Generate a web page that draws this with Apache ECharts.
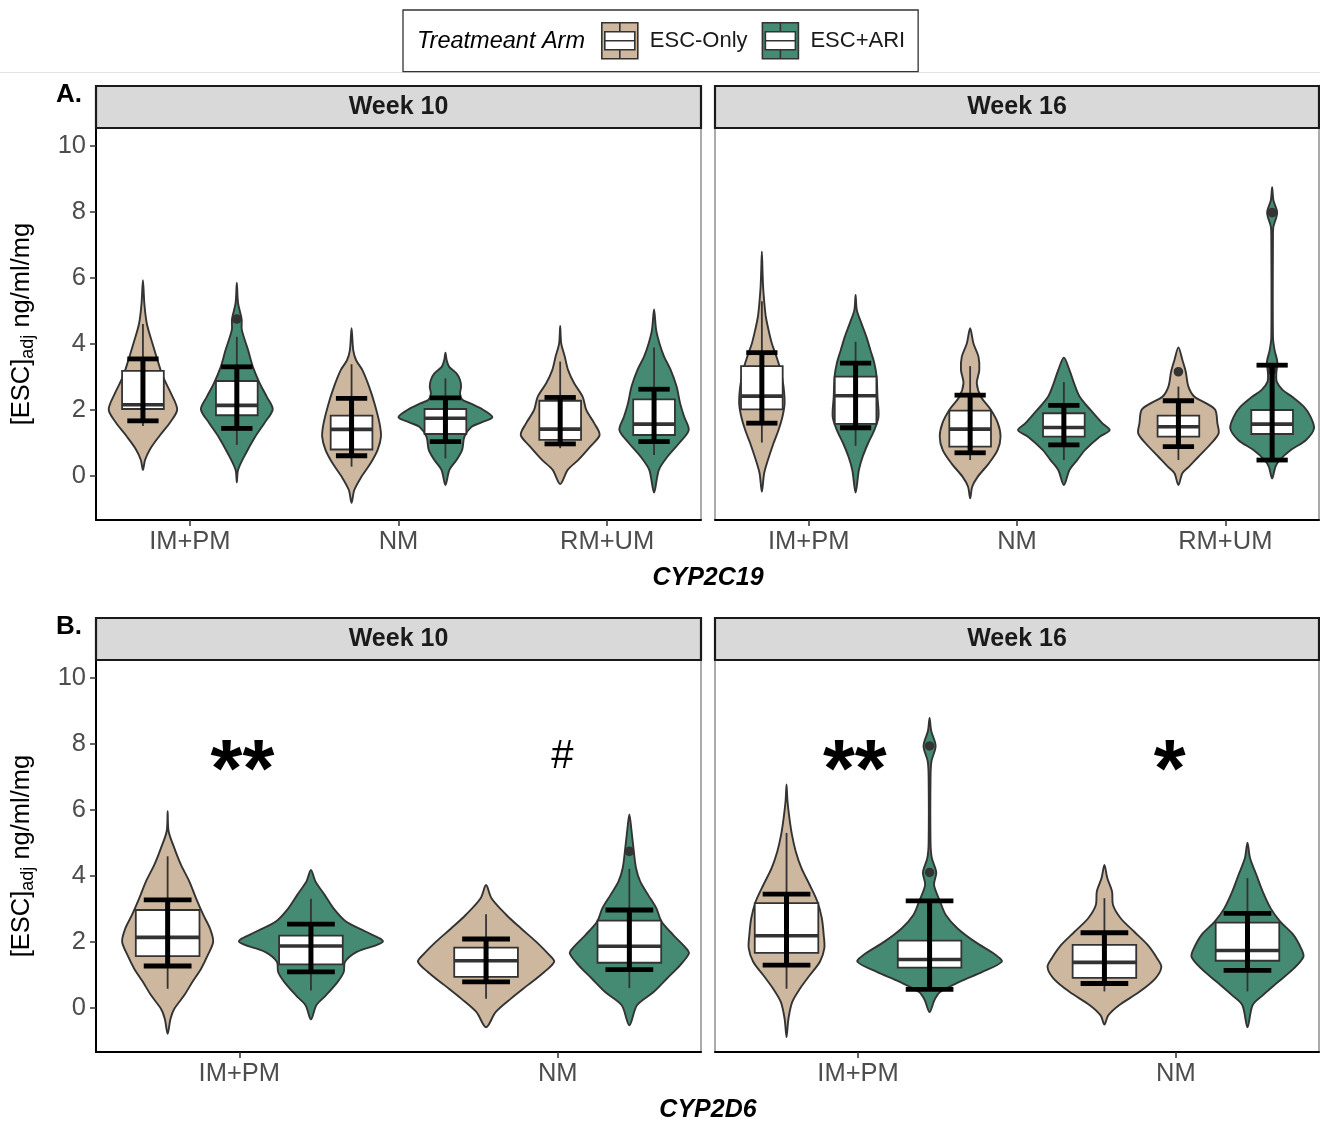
<!DOCTYPE html>
<html><head><meta charset="utf-8">
<script src="https://cdn.jsdelivr.net/npm/echarts@6/dist/echarts.min.js"></script>
<style>html,body{margin:0;padding:0;background:#fff;}#c{width:1320px;height:1121px;}</style>
</head><body><div id="c"></div>
<script>
// ---------------- DATA ----------------
const catsA = ['IM+PM', 'NM', 'RM+UM'];
const catsB = ['IM+PM', 'NM'];
const arms = ['ESC-Only', 'ESC+ARI'];
const weeks = ['Week 10', 'Week 16'];
const yTicks = [0, 2, 4, 6, 8, 10];
const titleA = 'CYP2C19';
const titleB = 'CYP2D6';

// violin outlines: per category, [value, half-width in x units] from top tip to bottom tip
const violin_A_W10_Only = [
  [[5.93,0],[5.2,.007],[4.6,.019],[4.0,.046],[3.5,.07],[3.0,.096],[2.5,.134],[2.0,.164],[1.6,.129],[1.2,.079],[0.8,.034],[0.47,.01],[0.17,0]],
  [[4.47,0],[3.81,.008],[3.5,.022],[3.2,.052],[2.7,.084],[2.19,.11],[1.59,.134],[1.18,.141],[0.78,.125],[0.37,.091],[-0.04,.047],[-0.44,.013],[-0.83,0]],
  [[4.54,0],[4.01,.005],[3.61,.022],[3.2,.038],[2.8,.067],[2.39,.108],[1.99,.125],[1.59,.163],[1.23,.189],[0.88,.144],[0.47,.086],[0.17,.036],[-0.26,0]]
];
const violin_A_W10_ARI = [
  [[5.85,0],[5.23,.006],[4.75,.023],[4.42,.024],[3.81,.054],[3.3,.077],[2.8,.11],[2.39,.144],[2.01,.172],[1.59,.132],[1.18,.088],[0.67,.043],[0.17,.006],[-0.21,0]],
  [[3.73,0],[3.5,.006],[3.3,.018],[3.1,.053],[2.9,.07],[2.7,.075],[2.49,.07],[2.3,.081],[2.19,.12],[1.99,.182],[1.77,.225],[1.6,.168],[1.48,.125],[1.18,.091],[0.78,.08],[0.47,.053],[0.17,.019],[-0.29,0]],
  [[5.04,0],[4.42,.01],[4.01,.026],[3.61,.048],[3.2,.08],[2.7,.108],[2.19,.125],[1.79,.144],[1.38,.166],[0.98,.12],[0.57,.064],[0.17,.023],[-0.52,0]]
];
const violin_A_W16_Only = [
  [[6.8,0],[6.24,.003],[5.73,.006],[5.23,.012],[4.82,.019],[4.42,.032],[4.01,.048],[3.61,.07],[3.2,.09],[2.7,.104],[2.19,.109],[1.79,.099],[1.38,.08],[0.98,.056],[0.47,.029],[0.07,.011],[-0.49,0]],
  [[4.47,0],[4.01,.016],[3.61,.04],[3.2,.044],[2.8,.032],[2.39,.052],[1.99,.1],[1.59,.133],[1.18,.146],[0.78,.132],[0.37,.09],[-0.04,.036],[-0.34,.01],[-0.69,0]],
  [[3.89,0],[3.51,.019],[3.16,.035],[2.7,.048],[2.39,.077],[2.19,.134],[1.99,.177],[1.59,.187],[1.28,.193],[0.98,.158],[0.57,.096],[0.27,.051],[0.07,.019],[-0.29,0]]
];
const violin_A_W16_ARI = [
  [[5.48,0],[5.02,.006],[4.62,.028],[4.21,.052],[3.81,.071],[3.41,.09],[3.0,.101],[2.39,.105],[1.79,.11],[1.38,.09],[0.98,.06],[0.57,.034],[0.17,.016],[-0.52,0]],
  [[3.58,0],[3.2,.027],[2.8,.049],[2.39,.076],[1.99,.128],[1.59,.184],[1.38,.22],[1.18,.172],[0.78,.102],[0.47,.064],[0.17,.027],[-0.29,0]],
  [[8.75,0],[8.36,.006],[7.98,.024],[7.55,.006],[7.25,.004],[4.2,.004],[3.8,.012],[3.45,.025],[3.1,.02],[2.85,.022],[2.6,.05],[2.39,.096],[2.09,.152],[1.79,.184],[1.43,.201],[1.08,.163],[0.78,.091],[0.47,.036],[0.27,.016],[-0.09,0]]
];
const violin_B_W10_Only = [
  [[5.96,0],[5.35,.003],[4.84,.021],[4.33,.042],[3.83,.068],[3.32,.089],[2.81,.112],[2.4,.133],[2.0,.143],[1.59,.126],[1.18,.105],[0.78,.078],[0.37,.052],[-0.04,.021],[-0.34,.009],[-0.8,0]],
  [[3.72,0],[3.32,.017],[2.81,.064],[2.4,.11],[2.0,.157],[1.59,.199],[1.39,.214],[1.08,.183],[0.68,.131],[0.27,.078],[-0.14,.03],[-0.6,0]]
];
const violin_B_W10_ARI = [
  [[4.18,0],[3.83,.014],[3.42,.043],[3.01,.071],[2.61,.11],[2.3,.173],[2.0,.226],[1.69,.144],[1.39,.107],[1.08,.103],[0.78,.084],[0.37,.047],[0.07,.017],[-0.36,0]],
  [[5.86,0],[5.35,.007],[4.74,.014],[4.23,.021],[3.83,.034],[3.42,.059],[3.01,.085],[2.61,.101],[2.2,.138],[1.79,.179],[1.64,.187],[1.28,.159],[0.88,.118],[0.47,.076],[0.07,.024],[-0.54,0]]
];
const violin_B_W16_Only = [
  [[6.77,0],[6.27,.003],[5.76,.009],[5.25,.017],[4.74,.029],[4.23,.047],[3.72,.073],[3.22,.097],[2.71,.111],[2.2,.117],[1.8,.119],[1.39,.105],[0.98,.073],[0.57,.042],[0.17,.018],[-0.34,.006],[-0.9,0]],
  [[4.33,0],[3.93,.009],[3.52,.024],[3.11,.027],[2.71,.051],[2.3,.094],[1.9,.136],[1.49,.166],[1.23,.179],[0.88,.16],[0.47,.109],[0.07,.046],[-0.24,.012],[-0.52,0]]
];
const violin_B_W16_ARI = [
  [[8.79,0],[8.4,.005],[7.94,.019],[7.48,.006],[7.0,.003],[5.0,.003],[4.54,.007],[4.1,.021],[3.72,.014],[3.22,.033],[2.81,.051],[2.4,.088],[2.0,.142],[1.59,.209],[1.39,.227],[1.08,.166],[0.78,.094],[0.47,.033],[0.22,.015],[-0.14,0]],
  [[5.0,0],[4.54,.008],[4.03,.028],[3.52,.048],[3.01,.073],[2.61,.103],[2.2,.145],[1.79,.169],[1.54,.176],[1.18,.145],[0.78,.097],[0.37,.048],[0.07,.016],[-0.6,0]]
];

// boxplots per category: [lower whisker, Q1, median, Q3, upper whisker]
const box_A_W10_Only = [[1.50,2.02,2.15,3.18,4.60],[0.27,0.79,1.40,1.82,3.38],[0.83,1.08,1.41,2.27,3.46]];
const box_A_W10_ARI  = [[0.93,1.83,2.13,2.87,4.21],[0.52,1.26,1.74,2.02,2.95],[0.62,1.23,1.56,2.31,3.89]];
const box_A_W16_Only = [[1.00,2.01,2.41,3.32,5.29],[0.47,0.88,1.41,1.97,3.32],[0.47,1.18,1.48,1.82,2.70]];
const box_A_W16_ARI  = [[0.90,1.57,2.42,3.00,4.06],[0.47,1.18,1.46,1.89,2.84],[0.50,1.26,1.56,1.99,2.90]];
const box_B_W10_Only = [[0.57,1.56,2.13,2.96,4.59],[0.27,0.93,1.42,1.82,2.83]];
const box_B_W10_ARI  = [[0.52,1.31,1.87,2.18,3.30],[0.59,1.36,1.86,2.64,4.21]];
const box_B_W16_Only = [[0.57,1.66,2.18,3.17,5.30],[0.49,0.90,1.37,1.90,3.32]];
const box_B_W16_ARI  = [[0.55,1.21,1.46,2.03,3.20],[0.49,1.42,1.73,2.58,3.93]];

// error bars per category: [low, high]
const err_A_W10_Only = [[1.66,3.54],[0.60,2.34],[0.96,2.37]];
const err_A_W10_ARI  = [[1.43,3.30],[1.03,2.36],[1.03,2.62]];
const err_A_W16_Only = [[1.59,3.73],[0.69,2.44],[0.88,2.27]];
const err_A_W16_ARI  = [[1.45,3.41],[0.93,2.13],[0.47,3.35]];
const err_B_W10_Only = [[1.26,3.27],[0.78,2.08]];
const err_B_W10_ARI  = [[1.08,2.53],[1.15,2.96]];
const err_B_W16_Only = [[1.29,3.44],[0.73,2.27]];
const err_B_W16_ARI  = [[0.55,3.24],[1.13,2.86]];

// outliers: [category number, value]
const out_A_W10_Only = [];
const out_A_W10_ARI  = [[1,4.75]];
const out_A_W16_Only = [[3,3.15]];
const out_A_W16_ARI  = [[3,7.98],[3,3.2]];
const out_B_W10_Only = [];
const out_B_W10_ARI  = [[2,4.74]];
const out_B_W16_Only = [];
const out_B_W16_ARI  = [[1,7.94],[1,4.1]];

// significance marks: [x, y, text]
const annot_B_W10 = [[1.01, 7.1, '**'], [2.015, 7.62, '#']];
const annot_B_W16 = [[0.99, 7.1, '**'], [1.98, 7.1, '*']];

// ---------------- STYLE / LAYOUT ----------------
const FF = '"Liberation Sans", Arial, Helvetica, sans-serif';
const TAN = '#CDB79E';
const GREEN = '#458B74';
const armColors = [TAN, GREEN];
const DODGE = 0.225, BOX_HALF = 0.1, CAP_HALF = 0.075;
const LBL = '#4D4D4D';

const panels = [
  {left: 96,  top: 128, width: 605, cats: catsA, week: 0, yLab: true,
   sets: [[violin_A_W10_Only, box_A_W10_Only, err_A_W10_Only, out_A_W10_Only], [violin_A_W10_ARI, box_A_W10_ARI, err_A_W10_ARI, out_A_W10_ARI]], annot: null},
  {left: 715, top: 128, width: 604, cats: catsA, week: 1, yLab: false,
   sets: [[violin_A_W16_Only, box_A_W16_Only, err_A_W16_Only, out_A_W16_Only], [violin_A_W16_ARI, box_A_W16_ARI, err_A_W16_ARI, out_A_W16_ARI]], annot: null},
  {left: 96,  top: 660, width: 605, cats: catsB, week: 0, yLab: true,
   sets: [[violin_B_W10_Only, box_B_W10_Only, err_B_W10_Only, out_B_W10_Only], [violin_B_W10_ARI, box_B_W10_ARI, err_B_W10_ARI, out_B_W10_ARI]], annot: annot_B_W10},
  {left: 715, top: 660, width: 604, cats: catsB, week: 1, yLab: false,
   sets: [[violin_B_W16_Only, box_B_W16_Only, err_B_W16_Only, out_B_W16_Only], [violin_B_W16_ARI, box_B_W16_ARI, err_B_W16_ARI, out_B_W16_ARI]], annot: annot_B_W16}
];
const PH = 392;

function makeViolinRender(profiles, outliers) {
  return function (params, api) {
    const i = params.dataIndex;
    const x = api.value(0);
    const wlo = api.value(1), q1 = api.value(2), med = api.value(3), q3 = api.value(4), whi = api.value(5);
    const elo = api.value(6), ehi = api.value(7);
    const prof = profiles[i];
    const right = prof.map(p => api.coord([x + p[1], p[0]]));
    const left = prof.slice(1, prof.length - 1).reverse().map(p => api.coord([x - p[1], p[0]]));
    const fill = api.visual('color');
    const seg = (x1, y1, x2, y2, w, c) => {
      const a = api.coord([x1, y1]), b = api.coord([x2, y2]);
      return {type: 'line', shape: {x1: a[0], y1: a[1], x2: b[0], y2: b[1]}, style: {stroke: c, lineWidth: w}};
    };
    const els = [];
    els.push({type: 'polygon', shape: {points: right.concat(left), smooth: 0.3}, style: {fill: fill, stroke: '#333333', lineWidth: 1.9}});
    els.push(seg(x, whi, x, q3, 1.8, '#333333'));
    els.push(seg(x, q1, x, wlo, 1.8, '#333333'));
    const tl = api.coord([x - BOX_HALF, q3]), br = api.coord([x + BOX_HALF, q1]);
    els.push({type: 'rect', shape: {x: tl[0], y: tl[1], width: br[0] - tl[0], height: br[1] - tl[1]}, style: {fill: '#ffffff', stroke: '#333333', lineWidth: 1.8}});
    els.push(seg(x - BOX_HALF, med, x + BOX_HALF, med, 3.6, '#333333'));
    outliers.filter(o => o[0] === i + 1).forEach(o => {
      const c = api.coord([x, o[1]]);
      els.push({type: 'circle', shape: {cx: c[0], cy: c[1], r: 4.8}, style: {fill: '#333333'}});
    });
    els.push(seg(x, elo, x, ehi, 5, '#000000'));
    els.push(seg(x - CAP_HALF, elo, x + CAP_HALF, elo, 4.8, '#000000'));
    els.push(seg(x - CAP_HALF, ehi, x + CAP_HALF, ehi, 4.8, '#000000'));
    return {type: 'group', children: els};
  };
}

const grids = [], xAxes = [], yAxes = [], series = [], graphics = [];
panels.forEach((p, gi) => {
  grids.push({left: p.left, top: p.top, width: p.width, height: PH, show: true, borderColor: '#7f7f7f', borderWidth: 1.3, backgroundColor: '#fff', containLabel: false});
  const ncat = p.cats.length;
  const catVals = p.cats.map((c, i) => i + 1);
  xAxes.push({
    type: 'value', gridIndex: gi, min: 0.55, max: ncat + 0.45,
    axisLine: {show: true, onZero: false, lineStyle: {color: '#000', width: 2}},
    axisTick: {show: true, customValues: catVals, length: 6, lineStyle: {color: '#333', width: 1.5}},
    axisLabel: {show: true, customValues: catVals, formatter: v => p.cats[Math.round(v) - 1] || '', color: LBL, fontSize: 25.5, fontFamily: FF, margin: 9},
    splitLine: {show: false}
  });
  const y = {
    type: 'value', gridIndex: gi, min: -1.35, max: 10.55,
    axisLine: {show: p.yLab, onZero: false, lineStyle: {color: '#000', width: 2}},
    axisTick: {show: p.yLab, customValues: yTicks, length: 6, lineStyle: {color: '#333', width: 1.5}},
    axisLabel: {show: p.yLab, customValues: yTicks, color: LBL, fontSize: 25.5, fontFamily: FF, margin: 10},
    splitLine: {show: false}
  };
  if (p.yLab) {
    y.name = '{a|[ESC]}{s|adj}{a| ng/ml/mg}';
    y.nameLocation = 'middle';
    y.nameRotate = 90;
    y.nameGap = 59;
    y.nameTextStyle = {rich: {
      a: {fontSize: 25.5, fontFamily: FF, color: '#000', lineHeight: 30},
      s: {fontSize: 18, fontFamily: FF, color: '#000', lineHeight: 18, verticalAlign: 'bottom'}
    }};
  }
  yAxes.push(y);
  p.sets.forEach((set, a) => {
    const [prof, box, err, outs] = set;
    const off = a === 0 ? -DODGE : DODGE;
    series.push({
      type: 'custom', name: arms[a], xAxisIndex: gi, yAxisIndex: gi,
      itemStyle: {color: armColors[a]},
      renderItem: makeViolinRender(prof, outs),
      data: box.map((b, i) => [i + 1 + off, b[0], b[1], b[2], b[3], b[4], err[i][0], err[i][1]]),
      encode: {x: 0, y: [1, 2, 3, 4, 5, 6, 7]},
      animation: false, silent: true, z: 3
    });
  });
  if (p.annot) {
    const ann = p.annot;
    series.push({
      type: 'custom', name: 'annot' + gi, xAxisIndex: gi, yAxisIndex: gi,
      renderItem: function (params, api) {
        const t = ann[params.dataIndex][2];
        const c = api.coord([api.value(0), api.value(1)]);
        const star = t.indexOf('*') >= 0;
        return {type: 'text', x: c[0], y: c[1], style: {
          text: t, fill: '#000', fontFamily: FF,
          fontSize: star ? 82 : 40, fontWeight: star ? 'bold' : 'normal',
          align: 'center', verticalAlign: 'middle'}};
      },
      data: ann.map(d => [d[0], d[1]]),
      animation: false, silent: true, z: 4
    });
  }
  // strip
  const stripTop = p.top - 42;
  graphics.push({type: 'rect', shape: {x: p.left, y: stripTop, width: p.width, height: 42}, style: {fill: '#D9D9D9', stroke: '#1a1a1a', lineWidth: 2.2}, z: 10});
  graphics.push({type: 'text', x: p.left + p.width / 2, y: stripTop + 21, style: {text: weeks[p.week], fill: '#1a1a1a', fontFamily: FF, fontWeight: 'bold', fontSize: 25, align: 'center', verticalAlign: 'middle'}, z: 11});
});

// panel tags and x titles
graphics.push({type: 'text', x: 56, y: 95, style: {text: 'A.', fill: '#000', fontFamily: FF, fontWeight: 'bold', fontSize: 26, align: 'left', verticalAlign: 'middle'}, z: 11});
graphics.push({type: 'text', x: 56, y: 627, style: {text: 'B.', fill: '#000', fontFamily: FF, fontWeight: 'bold', fontSize: 26, align: 'left', verticalAlign: 'middle'}, z: 11});
graphics.push({type: 'text', x: 708, y: 578, style: {text: titleA, fill: '#000', fontFamily: FF, fontWeight: 'bold', fontStyle: 'italic', fontSize: 25, align: 'center', verticalAlign: 'middle'}, z: 11});
graphics.push({type: 'text', x: 708, y: 1110, style: {text: titleB, fill: '#000', fontFamily: FF, fontWeight: 'bold', fontStyle: 'italic', fontSize: 25, align: 'center', verticalAlign: 'middle'}, z: 11});
// legend title and divider
graphics.push({type: 'text', x: 417, y: 41, style: {text: 'Treatmeant Arm', fill: '#000', fontFamily: FF, fontStyle: 'italic', fontSize: 23.5, align: 'left', verticalAlign: 'middle'}, z: 100});
graphics.push({type: 'line', shape: {x1: 0, y1: 72.5, x2: 1320, y2: 72.5}, style: {stroke: '#e4e4e4', lineWidth: 1}, z: 1});

const KEY = 'path://M0,0H36V36H0Z M3,9V27H33V9Z M3,18H33 M18,0V9 M18,27V36';

const option = {
  backgroundColor: '#ffffff',
  animation: false,
  grid: grids, xAxis: xAxes, yAxis: yAxes, series: series,
  legend: {
    left: 403, top: 10, orient: 'horizontal',
    padding: [12, 13, 12, 198],
    itemWidth: 36, itemHeight: 36, itemGap: 14,
    borderColor: '#333', borderWidth: 1.3, backgroundColor: '#fff',
    selectedMode: false,
    textStyle: {fontSize: 22, color: '#1a1a1a', fontFamily: FF, padding: [0, 0, 0, 7]},
    data: [
      {name: arms[0], icon: KEY, itemStyle: {color: TAN, borderColor: '#333', borderWidth: 1.6}},
      {name: arms[1], icon: KEY, itemStyle: {color: GREEN, borderColor: '#333', borderWidth: 1.6}}
    ]
  },
  graphic: graphics
};
const chart = echarts.init(document.getElementById('c'));
chart.setOption(option);
</script>
</body></html>
